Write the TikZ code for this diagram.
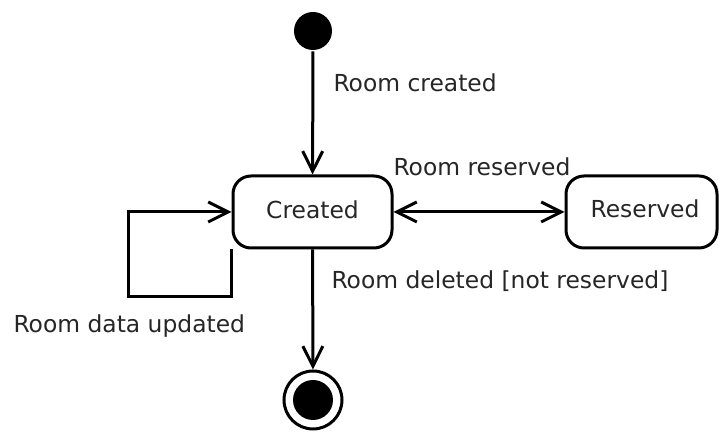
\documentclass[tikz,border=0pt]{standalone}
\usepackage{fontspec}
\setmainfont{DejaVu Sans}
\usetikzlibrary{arrows.meta}
\begin{document}
\begin{tikzpicture}[x=0.5pt,y=-0.5pt,
  font=\fontsize{11.7}{14}\selectfont,
  line width=1.5pt,
  state/.style={draw, rounded corners=9pt, inner sep=0pt, minimum height=36pt},
  initstate/.style={circle, fill=black, inner sep=0pt, minimum size=19pt},
  finalring/.style={circle, draw, inner sep=0pt, minimum size=29pt},
  finaldot/.style={circle, fill=black, inner sep=0pt, minimum size=20pt},
  arr/.style={-{Straight Barb[length=10pt,width=10pt,line width=1.5pt]}},
  darr/.style={{Straight Barb[length=10pt,width=10pt,line width=1.5pt]}-{Straight Barb[length=10pt,width=10pt,line width=1.5pt]}},
  lbl/.style={anchor=base west, inner sep=0pt, text=black!85}]
  \useasboundingbox (0,0) rectangle (719,432);

  % states
  \node[initstate] (init) at (313,31) {};
  \node[state, minimum width=79.5pt] (created) at (312.5,212) {};
  \node[anchor=base, inner sep=0pt, text=black!85] (createdtxt) at (312.5,219) {Created};
  \node[state, minimum width=75.5pt] (reserved) at (641.5,212) {};
  \node[anchor=base, inner sep=0pt, text=black!85] (reservedtxt) at (645,218) {Reserved};
  \node[finalring] (fin) at (313,400) {};
  \node[finaldot] (findot) at (313,400) {};

  % transitions
  \draw[arr] (init) -- (created);
  \draw[darr] (created.east) -- (reserved.west);
  \draw[arr] (created) -- (fin);
  \coordinate (loopcorner) at (128,297);
  \draw[arr] (created.south west) |- (loopcorner) |- (created.west);

  % transition labels
  \node[lbl] (lcreated) at (332,92) {Room created};
  \node[lbl] (lreserved) at (392,176) {Room reserved};
  \node[lbl] (ldeleted) at (330,289) {Room deleted [not reserved]};
  \node[lbl] (lupdated) at (12,333) {Room data updated};
\end{tikzpicture}
\end{document}
